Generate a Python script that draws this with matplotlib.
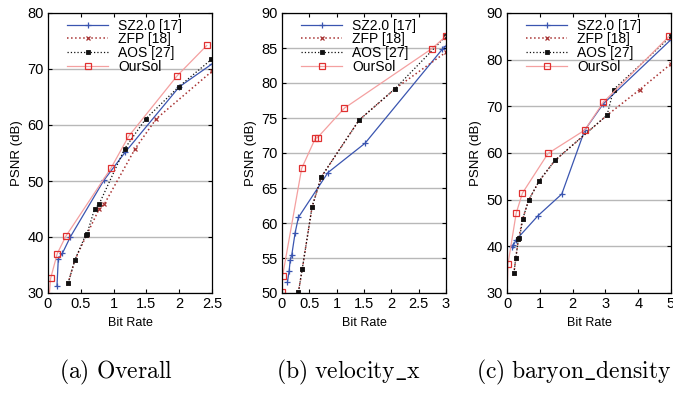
import matplotlib.pyplot as plt

plt.rcParams["font.family"] = ["Liberation Sans", "DejaVu Sans"]
plt.rcParams["mathtext.fontset"] = "cm"

# ── data ──────────────────────────────────────────────────────────────────────

LABELS = ["SZ2.0 [17]", "ZFP [18]", "AOS [27]", "OurSol"]

# (a) Overall
a_sz_x  = [0.137, 0.157, 0.22, 0.34, 0.85, 1.18, 2.0, 2.5]
a_sz_y  = [31.3, 36.1, 37.1, 40.0, 50.1, 55.2, 66.8, 70.9]
a_zfp_x = [0.305, 0.41, 0.59, 0.78, 0.86, 1.33, 1.65, 2.5]
a_zfp_y = [31.7, 35.9, 40.4, 45.0, 45.9, 55.8, 61.1, 69.6]
a_aos_x = [0.305, 0.41, 0.575, 0.595, 0.71, 0.78, 1.17, 1.49, 1.99, 2.49]
a_aos_y = [31.7, 35.9, 40.4, 40.6, 45.0, 45.9, 55.8, 61.1, 66.8, 71.7]
a_our_x = [0.015, 0.04, 0.14, 0.27, 0.96, 1.23, 1.97, 2.42]
a_our_y = [29.0, 32.6, 37.0, 40.1, 52.3, 58.0, 68.8, 74.2]

# (b) velocity_x
b_sz_x  = [0.10, 0.13, 0.15, 0.18, 0.24, 0.30, 0.84, 1.52, 2.93, 3.0]
b_sz_y  = [51.6, 53.1, 54.7, 55.5, 58.6, 60.8, 67.2, 71.4, 84.8, 85.3]
b_zfp_x = [0.30, 0.37, 0.55, 0.72, 1.41, 2.07, 3.0]
b_zfp_y = [50.1, 53.4, 62.3, 66.6, 74.7, 79.2, 84.4]
b_aos_x = [0.30, 0.37, 0.55, 0.72, 1.41, 2.07, 3.0]
b_aos_y = [50.1, 53.4, 62.3, 66.6, 74.7, 79.2, 86.7]
b_our_x = [0.0, 0.01, 0.36, 0.61, 0.65, 1.14, 2.74, 3.0]
b_our_y = [50.2, 52.4, 67.8, 72.1, 72.2, 76.4, 84.9, 86.7]

# (c) baryon_density
c_sz_x  = [0.14, 0.19, 0.28, 0.95, 1.67, 2.37, 2.93, 5.0]
c_sz_y  = [39.9, 40.2, 41.4, 46.6, 51.2, 64.9, 70.5, 84.3]
c_zfp_x = [0.21, 0.27, 0.35, 0.48, 0.66, 0.98, 1.46, 3.05, 4.05, 5.0]
c_zfp_y = [34.2, 37.6, 41.6, 45.9, 49.9, 54.0, 58.4, 68.1, 73.6, 79.1]
c_aos_x = [0.21, 0.27, 0.35, 0.38, 0.48, 0.66, 0.98, 1.46, 3.05, 3.25, 5.0]
c_aos_y = [34.2, 37.6, 41.6, 41.7, 45.9, 49.9, 54.0, 58.4, 68.1, 73.6, 85.0]
c_our_x = [0.0, 0.03, 0.28, 0.47, 1.25, 2.37, 2.94, 4.94]
c_our_y = [29.0, 36.2, 47.1, 51.4, 59.9, 64.9, 70.9, 85.0]

PANELS = [
    ((a_sz_x, a_sz_y), (a_zfp_x, a_zfp_y), (a_aos_x, a_aos_y), (a_our_x, a_our_y)),
    ((b_sz_x, b_sz_y), (b_zfp_x, b_zfp_y), (b_aos_x, b_aos_y), (b_our_x, b_our_y)),
    ((c_sz_x, c_sz_y), (c_zfp_x, c_zfp_y), (c_aos_x, c_aos_y), (c_our_x, c_our_y)),
]
XLIM    = [(0, 2.5), (0, 3), (0, 5)]
YLIM    = [(30, 80), (50, 90), (30, 90)]
XTICKS  = [[0, 0.5, 1, 1.5, 2, 2.5], [0, 0.5, 1, 1.5, 2, 2.5, 3], [0, 1, 2, 3, 4, 5]]
YSTEP   = [10, 5, 10]
CAPTIONS = [r"$\mathrm{(a)\ Overall}$", r"$\mathrm{(b)\ velocity\_x}$",
            r"$\mathrm{(c)\ baryon\_density}$"]

# ── style ─────────────────────────────────────────────────────────────────────

STYLES = [
    dict(color="#3a55b0", ls="-",  lw=0.9, marker="+", ms=4, mew=0.9),
    dict(color="#a83232", ls=":",  lw=1.1, marker="x", ms=3.5, mew=0.9),
    dict(color="#111111", ls=":",  lw=0.9, marker="s", ms=3.2, mew=0.6),
    dict(color="#f4a0a0", ls="-",  lw=0.9, marker="s", ms=5, mfc="none",
         mec="#e03030", mew=0.9),
]

fig = plt.figure(figsize=(6.73, 4.16), dpi=100)
lefts = [48, 282, 507]

for i, left in enumerate(lefts):
    ax = fig.add_axes([left / 673, 1 - 293 / 416, 164 / 673, 280 / 416])
    for (xs, ys), lab, st in zip(PANELS[i], LABELS, STYLES):
        ax.plot(xs, ys, label=lab, **st)
    ax.set_xlim(*XLIM[i]); ax.set_ylim(*YLIM[i])
    ax.set_xticks(XTICKS[i])
    ax.set_xticklabels([f"{t:g}" for t in XTICKS[i]])
    lo, hi = YLIM[i]
    ax.set_yticks(list(range(lo, hi + 1, YSTEP[i])))
    ax.yaxis.grid(True, color="#b8b8b8", lw=1.0)
    ax.set_axisbelow(True)
    ax.tick_params(direction="in", length=3, labelsize=10.5, pad=3,
                   top=True, right=True)
    ax.set_xlabel("Bit Rate", fontsize=9, labelpad=4)
    ax.set_ylabel("PSNR (dB)", fontsize=9.5, labelpad=3)
    for sp in ax.spines.values():
        sp.set_linewidth(0.9)
    ax.legend(loc="upper left", frameon=False, fontsize=10, handlelength=3.0,
              handletextpad=0.7, labelspacing=-0.02, borderaxespad=0.0,
              bbox_to_anchor=(0.08, 1.0))

caption_x = [116, 348, 574]
for cx, cap in zip(caption_x, CAPTIONS):
    fig.text(cx / 673, 1 - 372 / 416, cap, ha="center", va="center", fontsize=17)

fig.savefig("out.png", dpi=100)
